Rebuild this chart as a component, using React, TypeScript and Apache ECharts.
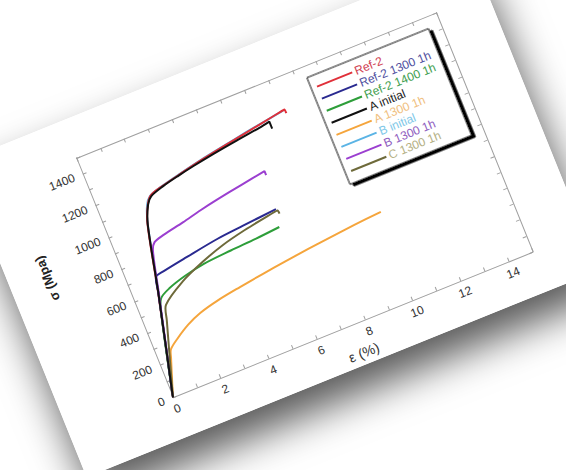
import React, { useEffect, useRef } from "react";
import * as echarts from "echarts";

// ---- data (strain %, stress MPa) ----
const seriesNames = [
  "Ref-2",
  "Ref-2 1300 1h",
  "Ref-2 1400 1h",
  "A initial",
  "A 1300 1h",
  "B initial",
  "B 1300 1h",
  "C 1300 1h",
];
const lineColors = ["#e0303a", "#2a2a90", "#2e9e3a", "#111111", "#f5a53c", "#5bb4e5", "#9b3fd0", "#6e6a3a"];
const legendTextColors = ["#d04050", "#5050a0", "#3fa050", "#222222", "#f0c080", "#80c8e8", "#9060c0", "#b4b084"];

const ref2 = [[0, 0], [1.0, 605], [1.6, 990], [1.9, 1095], [2.15, 1138], [2.7, 1162], [3.5, 1188], [4.5, 1218], [5.5, 1244], [6.5, 1268], [7.5, 1292], [8.17, 1308], [8.18, 1284]];
const ref2_1300 = [[0, 0], [1.0, 600], [1.14, 686], [1.5, 700], [2.5, 725], [3.9, 757], [5.0, 772], [6.42, 790]];
const ref2_1400 = [[0, 0], [0.8, 480], [1.01, 559], [1.45, 595], [2.2, 628], [3.06, 652], [4.2, 665], [5.28, 674], [6.28, 686]];
const aInitial = [[0, 0], [1.0, 600], [1.6, 985], [1.9, 1092], [2.14, 1131], [2.71, 1159], [3.4, 1182], [4.07, 1201], [5.0, 1224], [6.0, 1245], [7.0, 1264], [7.45, 1276], [7.45, 1232]];
const a1300 = [[0, 0], [0.5, 215], [0.62, 262], [1.0, 305], [1.6, 358], [2.2, 395], [3.0, 424], [4.0, 448], [5.0, 469], [6.0, 488], [7.0, 505], [8.0, 520], [9.0, 534], [10.14, 547]];
const bInitial = [[0, 0], [1.0, 600], [1.6, 985], [1.85, 1090], [2.1, 1135], [2.6, 1160], [3.5, 1190], [4.5, 1220], [5.5, 1245], [6.5, 1270], [7.5, 1292], [8.1, 1305]];
const b1300 = [[0, 0], [1.0, 590], [1.4, 830], [1.59, 876], [2.0, 895], [2.89, 921], [3.7, 948], [4.48, 970], [5.5, 995], [6.56, 1020], [6.56, 995]];
const c1300 = [[0, 0], [0.9, 430], [1.09, 513], [2.02, 602], [3.03, 665], [4.0, 712], [5.0, 745], [6.0, 770], [6.46, 779], [6.48, 758]];

const seriesData = [ref2, ref2_1300, ref2_1400, aInitial, a1300, bInitial, b1300, c1300];
const seriesZ = [3, 3, 3, 4, 3, 2, 3, 3];

const xMin = 0, xMax = 15;
const yMin = 0, yMax = 1500;

// layout (in the un-rotated card)
const L = 110, T = 40, GW = 388, GH = 261, RM = 55, BM = 39;
const W = L + GW + RM, H = T + GH + BM;
const ORIGIN_X = 174, ORIGIN_Y = 400;
const ANGLE = -22;

export default function App() {
  const ref = useRef<HTMLDivElement>(null);
  useEffect(() => {
    if (!ref.current) return;
    const chart = echarts.init(ref.current, null, { renderer: "svg" });
    const font = 'Arial, "Liberation Sans", sans-serif';
    const axisCommon = {
      axisLine: { show: true, onZero: false, lineStyle: { color: "#a0a0a0", width: 1 } },
      axisTick: { show: true, inside: true, length: 4, lineStyle: { color: "#a0a0a0" } },
      splitLine: { show: false },
    };
    chart.setOption({
      animation: false,
      backgroundColor: "#fff",
      textStyle: { fontFamily: font },
      grid: { left: L, top: T, width: GW, height: GH, containLabel: false },
      legend: {
        orient: "vertical",
        left: L + 244,
        top: T + 12,
        icon: "rect",
        itemWidth: 38,
        itemHeight: 2,
        itemGap: 1,
        padding: [6, 8, 6, 6],
        backgroundColor: "#fff",
        borderColor: "#000",
        borderWidth: 1,
        shadowColor: "#000",
        shadowOffsetX: 3,
        shadowOffsetY: 3,
        shadowBlur: 0,
        textStyle: { fontSize: 12, lineHeight: 12, fontFamily: font, padding: [0, 0, 0, -2] },
        data: seriesNames.map((n, i) => ({ name: n, textStyle: { color: legendTextColors[i] } })),
      },
      xAxis: [
        {
          type: "value", min: xMin, max: xMax, interval: 1, position: "bottom",
          ...axisCommon,
          axisLabel: { color: "#333", fontSize: 12, margin: 6, formatter: (v: number) => (v % 2 === 0 ? String(v) : "") },
          name: "ε (%)", nameLocation: "middle", nameGap: 22,
          nameTextStyle: { fontSize: 14, color: "#333", fontFamily: font },
        },
        {
          type: "value", min: xMin, max: xMax, interval: 1, position: "top",
          ...axisCommon, axisLabel: { show: false },
        },
      ],
      yAxis: [
        {
          type: "value", min: yMin, max: yMax, interval: 100, position: "left",
          ...axisCommon,
          axisLabel: { color: "#333", fontSize: 12, margin: 9, formatter: (v: number) => (v % 200 === 0 ? String(v) : "") },
        },
        {
          type: "value", min: yMin, max: yMax, interval: 100, position: "right",
          ...axisCommon, axisLabel: { show: false },
        },
      ],
      graphic: [
        {
          type: "text",
          x: L - 72,
          y: T + GH - 160,
          rotation: Math.PI / 2,
          style: { text: "σ (Mpa)", fontSize: 13, fontWeight: "bold", fill: "#222", textAlign: "center", textVerticalAlign: "middle", fontFamily: font },
        },
      ],
      series: seriesNames.map((n, i) => ({
        name: n,
        type: "line",
        xAxisIndex: 0,
        yAxisIndex: 0,
        data: seriesData[i],
        symbol: "none",
        smooth: 0.3,
        z: seriesZ[i],
        lineStyle: { color: lineColors[i], width: 2 },
        itemStyle: { color: lineColors[i] },
      })),
    });
    return () => chart.dispose();
  }, []);

  return (
    <div style={{ position: "absolute", left: 0, top: 0, width: 566, height: 470, overflow: "hidden", background: "#fff" }}>
      <div
        ref={ref}
        style={{
          position: "absolute",
          left: ORIGIN_X - L,
          top: ORIGIN_Y - (T + GH),
          width: W,
          height: H,
          background: "#fff",
          transformOrigin: `${L}px ${T + GH}px`,
          transform: `rotate(${ANGLE}deg)`,
          boxShadow: "0 24px 40px rgba(0,0,0,0.65)",
        }}
      />
    </div>
  );
}
